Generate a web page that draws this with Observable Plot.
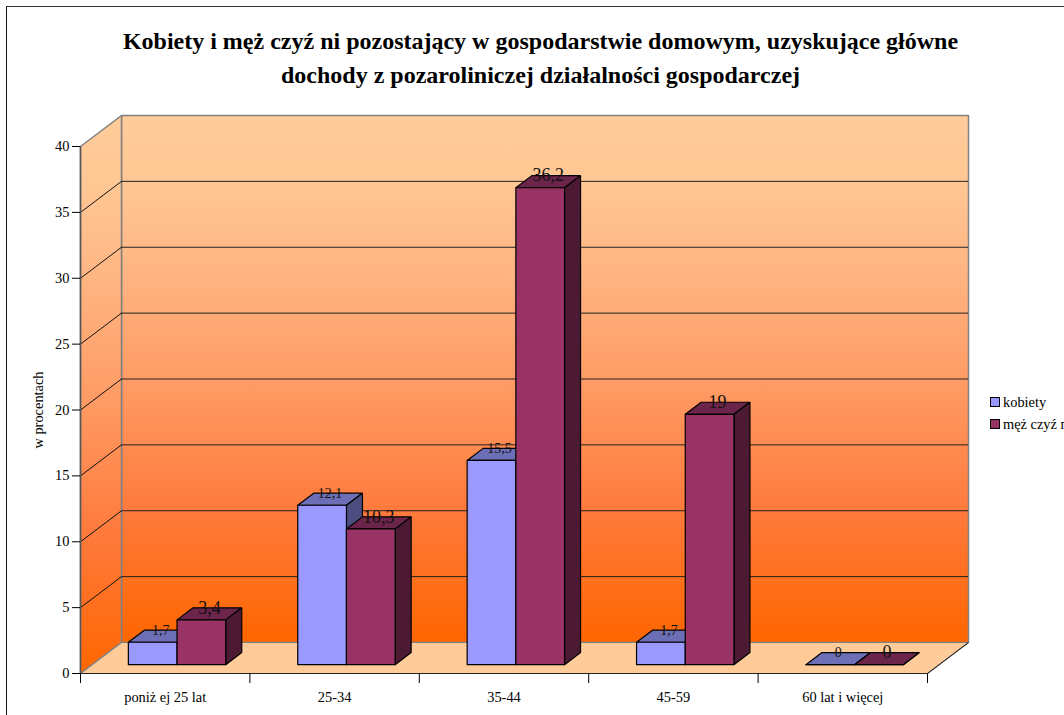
<!DOCTYPE html>
<html><head><meta charset="utf-8">
<script src="https://cdn.jsdelivr.net/npm/d3@7"></script>
<script src="https://cdn.jsdelivr.net/npm/@observablehq/plot@0.6"></script>
<style>
html,body{margin:0;padding:0;background:#fff;overflow:hidden;width:1064px;height:715px}
#wrap{position:relative;width:1064px;height:715px;overflow:hidden;font-family:"Liberation Serif",serif;color:#000}
#wrap svg{display:block;position:absolute;left:0;top:0;background:transparent}
#border{position:absolute;left:5.5px;top:6px;width:1100px;height:800px;border-left:1.5px solid #111;border-top:1.5px solid #333}
#legend{position:absolute;left:990px;top:391px;font-size:14.4px;white-space:nowrap}
#legend div{height:22px;line-height:16px;display:flex;align-items:center;height:22px}
#legend i{display:inline-block;box-sizing:border-box;width:10px;height:10px;border:1.2px solid #000;margin-right:3px}
</style></head><body>
<div id="wrap"><div id="border"></div><div id="chart"></div>
<div id="legend"></div></div>
<script>
const categories = ["poniż ej 25 lat", "25-34", "35-44", "45-59", "60 lat i więcej"];
const kobiety = [1.7, 12.1, 15.5, 1.7, 0];
const mezczyzni = [3.4, 10.3, 36.2, 19, 0];
const valueLabels = {kobiety: ["1,7", "12,1", "15,5", "1,7", "0"], mezczyzni: ["3,4", "10,3", "36,2", "19", "0"]};
const legendNames = ["kobiety", "męż czyź ni"];
const seriesColors = {
  kobiety: {front: "#9999FF", top: "#6C6FB5", side: "#4D4D80"},
  mezczyzni: {front: "#993366", top: "#6B244A", side: "#4D1A33"}
};
const yTicks = [0, 5, 10, 15, 20, 25, 30, 35, 40];
const titleText = "Kobiety i męż czyź ni pozostający w gospodarstwie domowym, uzyskujące główne\ndochody z pozaroliniczej działalności gospodarczej";

// oblique projection of the 3-D box, in data units
const depthX = 0.242, depthY = 2.353;
const barOffset = 0.2135, barWidth = 0.2875, barD0 = 0.285, barD1 = 0.675;
const P = (c, v, d) => ({x: c + d * depthX, y: v + d * depthY});

const poly = (id, pts) => [...pts, pts[0]].map(p => ({id, ...p}));
function faces(values, slot) {
  const front = [], top = [], side = [];
  values.forEach((v, i) => {
    const a = i + barOffset + slot * barWidth, b = a + barWidth;
    front.push(...poly(i, [P(a, 0, barD0), P(b, 0, barD0), P(b, v, barD0), P(a, v, barD0)]));
    top.push(...poly(i, [P(a, v, barD0), P(b, v, barD0), P(b, v, barD1), P(a, v, barD1)]));
    side.push(...poly(i, [P(b, 0, barD0), P(b, 0, barD1), P(b, v, barD1), P(b, v, barD0)]));
  });
  return {front, top, side};
}
function barMarks(values, slot, col, labels, size) {
  const f = faces(values, slot);
  const opt = {x: "x", y: "y", z: "id", stroke: "#000", strokeWidth: 1.2, strokeLinejoin: "miter"};
  return [
    Plot.line(f.top, {...opt, fill: col.top}),
    Plot.line(f.side, {...opt, fill: col.side}),
    Plot.line(f.front, {...opt, fill: col.front}),
    Plot.text(values.map((v, i) => ({label: labels[i], ...P(i + barOffset + (slot + .5) * barWidth, v, (barD0 + barD1) / 2), y: v + barD1 * depthY})),
      {x: "x", y: "y", text: "label", fontSize: size, fill: "#111"})
  ];
}
const wallGrey = "#808080";
const leftWall = poly(0, [P(0, 0, 0), P(0, 0, 1), P(0, 40, 1), P(0, 40, 0)]);
const backWall = poly(0, [P(0, 0, 1), P(5, 0, 1), P(5, 40, 1), P(0, 40, 1)]);
const floor = poly(0, [P(0, 0, 0), P(5, 0, 0), P(5, 0, 1), P(0, 0, 1)]);
const gridV = yTicks.filter(v => v > 0 && v < 40);
const gradientStops = [["0%", "#FFCC99"], ["12%", "#FFC794"], ["25%", "#FFBA88"], ["50%", "#FF9C66"], ["75%", "#FF7A3C"], ["100%", "#FF6600"]];

const chart = Plot.plot({
  width: 1064, height: 715,
  marginLeft: 80, marginRight: 137, marginTop: 146, marginBottom: 42,
  x: {domain: [0, 5]},
  y: {domain: [0, 40]},
  style: {fontFamily: '"Liberation Serif", serif', fontSize: "14.4px", background: "transparent", color: "#000", overflow: "visible"},
  marks: [
    () => {
      const s = d3.create("svg:defs");
      const g = s.append("linearGradient").attr("id", "wallGrad").attr("x1", 0).attr("x2", 0).attr("y1", 0).attr("y2", 1);
      gradientStops.forEach(([o, c]) => g.append("stop").attr("offset", o).attr("stop-color", c));
      return s.node();
    },
    Plot.line(backWall, {x: "x", y: "y", fill: "url(#wallGrad)", stroke: wallGrey, strokeWidth: 1.5, strokeLinejoin: "miter"}),
    Plot.line(leftWall, {x: "x", y: "y", fill: "url(#wallGrad)", stroke: wallGrey, strokeWidth: 1.5, strokeLinejoin: "miter"}),
    Plot.line(floor, {x: "x", y: "y", fill: "#FFCC99", stroke: wallGrey, strokeWidth: 1.2, strokeLinejoin: "miter"}),
    Plot.ruleY(gridV, {x1: depthX, x2: 5 + depthX, y: v => v + depthY, stroke: "#222", strokeWidth: 1}),
    Plot.link(gridV, {x1: () => 0, y1: v => v, x2: () => depthX, y2: v => v + depthY, stroke: "#111", strokeWidth: 1}),
    Plot.link([0], {x1: () => 5, y1: () => 0, x2: () => 5 + depthX, y2: () => depthY, stroke: "#222", strokeWidth: 1}),
    Plot.ruleX([0], {y1: 0, y2: 40, stroke: "#555", strokeWidth: 1.5}),
    Plot.ruleY([0], {x1: 0, x2: 5, stroke: "#222", strokeWidth: 1.2}),
    Plot.axisY({ticks: yTicks, tickSize: 8, tickPadding: 3, label: "w procentach", labelAnchor: "center", labelArrow: "none", labelOffset: 48, tickFormat: d => d}),
    Plot.axisX({ticks: [0, 1, 2, 3, 4, 5], tickSize: 10, tickFormat: () => "", label: null}),
    Plot.axisX({ticks: categories.map((c, i) => i + .5), tickSize: 0, tickPadding: 18, tickFormat: d => categories[d - .5], label: null}),
    ...barMarks(kobiety, 0, seriesColors.kobiety, valueLabels.kobiety, 14),
    ...barMarks(mezczyzni, 1, seriesColors.mezczyzni, valueLabels.mezczyzni, 18),
    Plot.text([titleText], {frameAnchor: "top", dx: 36.5, dy: -122, text: d => d, lineAnchor: "top", fontSize: 24, fontWeight: "bold", lineHeight: 1.417, fill: "#000"})
  ]
});
document.getElementById("chart").append(chart);
const lg = document.getElementById("legend");
[seriesColors.kobiety, seriesColors.mezczyzni].forEach((c, i) => {
  const r = document.createElement("div");
  const sw = document.createElement("i"); sw.style.background = c.front;
  r.append(sw, legendNames[i]); lg.append(r);
});
</script></body></html>
